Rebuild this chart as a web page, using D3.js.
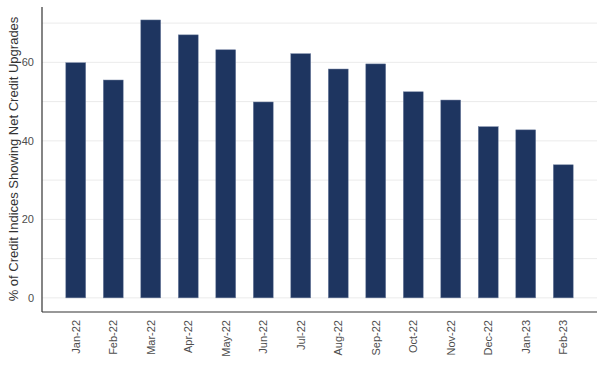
<!DOCTYPE html>
<html>
<head>
<meta charset="utf-8">
<script src="https://cdn.jsdelivr.net/npm/d3@7"></script>
<style>
  body { margin: 0; background: #fff; }
  text { font-family: "Liberation Sans", Arial, sans-serif; }
</style>
</head>
<body>
<svg id="chart"></svg>
<script>
const months = ['Jan-22', 'Feb-22', 'Mar-22', 'Apr-22', 'May-22', 'Jun-22', 'Jul-22',
    'Aug-22', 'Sep-22', 'Oct-22', 'Nov-22', 'Dec-22', 'Jan-23', 'Feb-23'];
const upgrades = [59.9, 55.5, 70.8, 67.0, 63.2, 49.9, 62.2, 58.3, 59.6, 52.5, 50.4, 43.6, 42.8, 33.9];
const majorTicks = [0, 20, 40, 60];
const minorTicks = [10, 30, 50, 70];
const ylabel = '% of Credit Indices Showing Net Credit Upgrades';

const width = 605, height = 378;
const margin = { top: 7, right: 8, bottom: 66, left: 42 };
const inner_width = width - margin.left - margin.right;
const inner_height = height - margin.top - margin.bottom;

const svg = d3.select('#chart')
    .attr('width', width)
    .attr('height', height);

const chart = svg.append('g')
    .attr('transform', `translate(${margin.left}, ${margin.top})`);

const xscale = d3.scaleBand()
    .domain(months)
    .range([15, 540])
    .paddingInner(0.47)
    .paddingOuter(0.235);

const yscale = d3.scaleLinear()
    .domain([-3.6, 74.1])
    .range([inner_height, 0]);

// grid lines
chart.append('g')
    .selectAll('line')
    .data(majorTicks.concat(minorTicks))
    .join('line')
    .attr('x1', 0)
    .attr('x2', inner_width)
    .attr('y1', d => yscale(d))
    .attr('y2', d => yscale(d))
    .attr('stroke', '#ebebeb')
    .attr('stroke-width', 1);

chart.selectAll('.bar')
    .data(months)
    .join('rect')
    .attr('class', 'bar')
    .attr('x', d => xscale(d))
    .attr('y', (d, i) => yscale(upgrades[i]))
    .attr('width', xscale.bandwidth())
    .attr('height', (d, i) => yscale(0) - yscale(upgrades[i]))
    .attr('fill', '#1e3560')
    .attr('stroke', '#6f7f9f')
    .attr('stroke-width', 0.5);

const yaxis = d3.axisLeft(yscale)
    .tickValues(majorTicks)
    .tickSize(0)
    .tickPadding(8);

const yaxis_group = chart.append('g').call(yaxis);
yaxis_group.select('.domain').remove();
yaxis_group.selectAll('text')
    .style('font-size', '11px')
    .attr('fill', '#4d4d4d');

const xaxis = d3.axisBottom(xscale)
    .tickSize(0)
    .tickPadding(0);

const xaxis_group = chart.append('g')
    .attr('transform', `translate(0, ${inner_height})`)
    .call(xaxis);
xaxis_group.select('.domain').remove();
xaxis_group.selectAll('text')
    .style('font-size', '11px')
    .attr('fill', '#4d4d4d')
    .attr('transform', 'rotate(-90)')
    .attr('x', -8)
    .attr('y', 0)
    .attr('dy', '0.35em')
    .style('text-anchor', 'end');

// axis lines
chart.append('line')
    .attr('x1', 0).attr('x2', 0)
    .attr('y1', 0).attr('y2', inner_height)
    .attr('stroke', '#333').attr('stroke-width', 1.2);
chart.append('line')
    .attr('x1', 0).attr('x2', inner_width)
    .attr('y1', inner_height).attr('y2', inner_height)
    .attr('stroke', '#333').attr('stroke-width', 1.2);

svg.append('text')
    .style('font-size', '13px')
    .attr('fill', '#333')
    .attr('transform', 'rotate(-90)')
    .attr('x', -159)
    .attr('y', 13)
    .attr('dy', '0.35em')
    .attr('text-anchor', 'middle')
    .text(ylabel);
</script>
</body>
</html>
